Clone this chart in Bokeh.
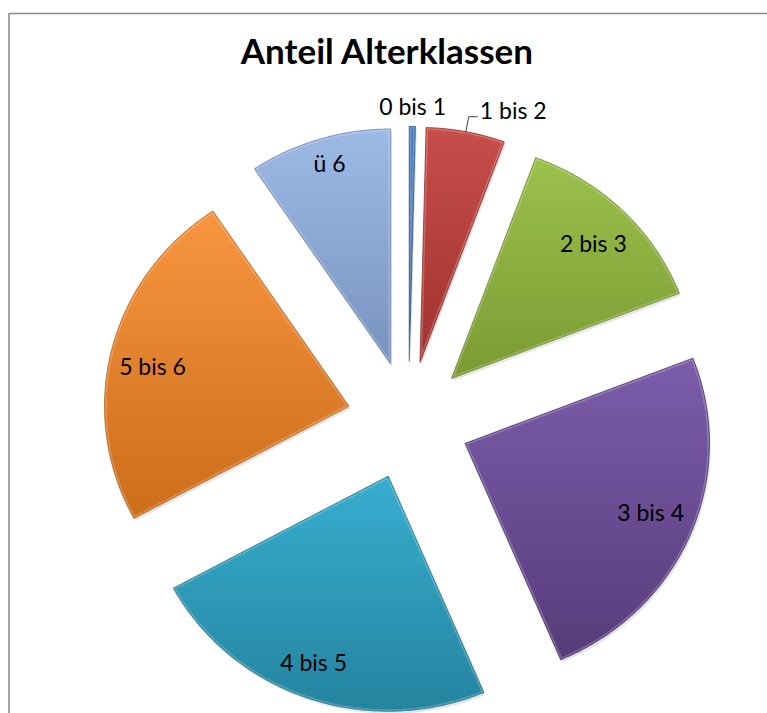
import numpy as np
from bokeh.plotting import figure
from bokeh.models import Range1d, ColumnDataSource
from bokeh.embed import file_html
from bokeh.resources import INLINE
from bokeh.core.properties import value

# ---------------- data ----------------
title_text = "Anteil Alterklassen"
categories = ["0 bis 1", "1 bis 2", "2 bis 3", "3 bis 4", "4 bis 5", "5 bis 6", "ü 6"]
shares = [0.4, 5.2, 13.5, 24.5, 23.5, 23.5, 9.4]

# ---------------- style ----------------
top_colors = ["#4A7EC0", "#C84E4A", "#9CC14D", "#7C5DAA", "#38AED0", "#F99640", "#9DBBE6"]
bottom_colors = ["#355E96", "#A0322F", "#7A9B33", "#573C7B", "#24849F", "#CC6D1B", "#7892BF"]
edge_colors = ["#2E5283", "#8A2B28", "#6A872C", "#4A3368", "#1F7189", "#B05E17", "#6A82AA"]
label_factor = [1.089, None, 0.817, 0.814, 0.846, 0.822, 0.89]
label_angle_adj = [0.0, 0.0, 0.8, -1.7, 1.9, -1.7, 0.6]

W, H = 767, 713
CX, CY = 408, 420          # pie centre in page pixels
SX = 1.04                  # horizontal stretch of the chart (px per data unit)
R = 235                    # pie radius (data units)
EXPLODE = 59               # explosion distance (data units)
N_BANDS = 40

p = figure(width=W, height=H,
           x_range=Range1d(-CX / SX, (W - CX) / SX), y_range=Range1d(CY - H, CY),
           output_backend="svg", toolbar_location=None,
           x_axis_location=None, y_axis_location=None,
           min_border=0, min_border_left=0, min_border_right=0,
           min_border_top=0, min_border_bottom=0)
p.grid.visible = False
p.outline_line_color = None
p.background_fill_color = "white"
p.border_fill_color = "white"

# chart-area frame (top and left edges visible)
fx = (8.5 - CX) / SX
fy = CY - 13
p.line([fx, fx, (W - CX + 10) / SX], [CY - H - 10, fy, fy], line_color="#8c8c8c", line_width=1.6)

# ---------------- geometry ----------------
vals = np.array(shares, dtype=float)
frac = vals / vals.sum()
cum = np.concatenate([[0.0], np.cumsum(frac)]) * 360.0   # clockwise from 12 o'clock
t1 = cum[:-1]
t2 = cum[1:]
mid = (t1 + t2) / 2.0
apex_x = EXPLODE * np.sin(np.radians(mid))
apex_y = EXPLODE * np.cos(np.radians(mid))


def wedge_poly(i, npts=140):
    a = np.linspace(t1[i], t2[i], npts)
    xs = apex_x[i] + R * np.sin(np.radians(a))
    ys = apex_y[i] + R * np.cos(np.radians(a))
    return [(apex_x[i], apex_y[i])] + list(zip(xs, ys))


def clip(poly, y0, keep_above):
    out = []
    n = len(poly)
    for k in range(n):
        cur = poly[k]
        prev = poly[k - 1]
        cin = cur[1] >= y0 if keep_above else cur[1] <= y0
        pin = prev[1] >= y0 if keep_above else prev[1] <= y0
        if cin:
            if not pin:
                t = (y0 - prev[1]) / (cur[1] - prev[1])
                out.append((prev[0] + t * (cur[0] - prev[0]), y0))
            out.append(cur)
        elif pin:
            t = (y0 - prev[1]) / (cur[1] - prev[1])
            out.append((prev[0] + t * (cur[0] - prev[0]), y0))
    return out


def hex2rgb(h):
    h = h.lstrip("#")
    return np.array([int(h[i:i + 2], 16) for i in (0, 2, 4)], dtype=float)


def rgb2hex(c):
    c = np.clip(np.round(c), 0, 255).astype(int)
    return "#%02x%02x%02x" % tuple(c)


polys = [wedge_poly(i) for i in range(len(shares))]
px = [[q[0] for q in pl] for pl in polys]
py = [[q[1] for q in pl] for pl in polys]

# soft shadow
p.patches(xs=[[v + 1.5 / SX for v in xx] for xx in px], ys=[[v - 2.5 for v in yy] for yy in py],
          fill_color="black", fill_alpha=0.12, line_color=None)

band_x, band_y, band_c = [], [], []
for i, poly in enumerate(polys):
    ys = [q[1] for q in poly]
    ymax, ymin = max(ys), min(ys)
    h = (ymax - ymin) / N_BANDS
    ctop, cbot = hex2rgb(top_colors[i]), hex2rgb(bottom_colors[i])
    for b in range(N_BANDS):
        yt = ymax - b * h + 0.6
        yb = ymax - (b + 1) * h - 0.6
        part = clip(clip(poly, yt, False), yb, True)
        if len(part) < 3:
            continue
        t = (b + 0.5) / N_BANDS
        band_x.append([q[0] for q in part])
        band_y.append([q[1] for q in part])
        band_c.append(rgb2hex(ctop * (1 - t) + cbot * t))

p.patches(xs="xs", ys="ys", fill_color="c", line_color=None,
          source=ColumnDataSource(dict(xs=band_x, ys=band_y, c=band_c)))

# bevel: soft inner highlight + darker rim
p.patches(xs=px, ys=py, fill_alpha=0.0, line_color="white", line_width=4, line_alpha=0.22)
p.patches(xs=px, ys=py, fill_alpha=0.0, line_color=edge_colors, line_width=1.1, line_alpha=0.75)

# ---------------- labels ----------------
lx, ly, lt = [], [], []
for i, cat in enumerate(categories):
    if label_factor[i] is None:
        continue
    a = np.radians(mid[i] + label_angle_adj[i])
    lx.append(apex_x[i] + label_factor[i] * R * np.sin(a))
    ly.append(apex_y[i] + label_factor[i] * R * np.cos(a))
    lt.append(cat)
p.text(x="x", y="y", text="t", source=ColumnDataSource(dict(x=lx, y=ly, t=lt)),
       text_font=value("Lato"), text_font_size="23px", text_color="black",
       text_align="center", text_baseline="middle")

# leader line label for slice 2
i = 1
a = np.radians(mid[i])
sx = apex_x[i] + R * np.sin(a)
sy = apex_y[i] + R * np.cos(a)
ex, ey = sx + 3 / SX, sy + 15
p.line([sx, ex, ex + 9 / SX], [sy, ey, ey], line_color="#404040", line_width=1)
p.text(x=[ex + 11 / SX], y=[ey + 7], text=[categories[i]],
       text_font=value("Lato"), text_font_size="23px", text_color="black",
       text_align="left", text_baseline="middle")

# title
p.text(x=[(387 - CX) / SX], y=[CY - 49], text=[title_text],
       text_font=value("Lato"), text_font_size="35px", text_font_style="bold",
       text_color="black", text_align="center", text_baseline="middle")

open("out.html", "w").write(file_html(p, INLINE))
